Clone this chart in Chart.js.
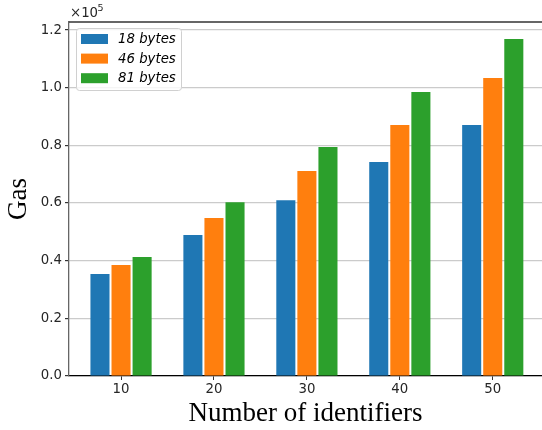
<!DOCTYPE html>
<html>
<head>
<meta charset="utf-8">
<script src="https://cdn.jsdelivr.net/npm/chart.js@4/dist/chart.umd.min.js"></script>
<style>
  html, body { margin: 0; padding: 0; background: #fff; overflow: hidden; }
  #wrap { width: 542px; height: 430px; }
</style>
</head>
<body>
<div id="wrap"><canvas id="chart" width="542" height="430"></canvas></div>
<script>
// values (gas, raw units)
const identifiers = [10, 20, 30, 40, 50];
const seriesLabels = ["18 bytes", "46 bytes", "81 bytes"];
const gas18 = [35400, 48900, 61000, 74200, 87100];
const gas46 = [38500, 54800, 71100, 87100, 103400];
const gas81 = [41300, 60300, 79400, 98500, 116900];
const yTicks = [0, 20000, 40000, 60000, 80000, 100000, 120000];
const colors = ["#1f77b4", "#ff7f0e", "#2ca02c"];

const tickFont = { family: "'DejaVu Sans'", size: 13.3 };
const titleFont = { family: "'Liberation Serif'", size: 27 };

// top spine, offset text and the boxed legend
const extras = {
  id: "extras",
  afterDatasetsDraw(chart) {
    const { ctx, chartArea: a } = chart;
    ctx.save();
    ctx.strokeStyle = "#333";
    ctx.lineWidth = 1.3;
    ctx.beginPath();
    ctx.moveTo(a.left, a.top);
    ctx.lineTo(a.right, a.top);
    ctx.stroke();

    // ×10^5
    ctx.fillStyle = "#262626";
    ctx.textBaseline = "alphabetic";
    ctx.font = "13.3px 'DejaVu Sans'";
    ctx.fillText("\u00d710", 70, 17);
    ctx.font = "9.5px 'DejaVu Sans'";
    ctx.fillText("5", 97.5, 10.5);

    // legend
    const x0 = a.left + 7, y0 = a.top + 6;
    ctx.beginPath();
    ctx.roundRect(x0 + 0.5, y0 + 0.5, 105, 62, 3);
    ctx.fillStyle = "rgba(255,255,255,0.8)";
    ctx.fill();
    ctx.strokeStyle = "#d0d0d0";
    ctx.lineWidth = 1;
    ctx.stroke();
    ctx.font = "italic 13.3px 'DejaVu Sans'";
    ctx.textBaseline = "middle";
    chart.data.datasets.forEach((ds, i) => {
      const y = y0 + 6 + i * 19.6;
      ctx.fillStyle = ds.backgroundColor;
      ctx.fillRect(x0 + 5, y, 27, 10);
      ctx.fillStyle = "#000";
      ctx.fillText(ds.label, x0 + 42, y + 5.5);
    });
    ctx.restore();
  }
};

new Chart(document.getElementById("chart"), {
  type: "bar",
  data: {
    datasets: [gas18, gas46, gas81].map((vals, i) => ({
      label: seriesLabels[i],
      data: identifiers.map((x, j) => ({ x, y: vals[j] })),
      backgroundColor: colors[i],
      categoryPercentage: 0.68,
      barPercentage: 0.905
    }))
  },
  options: {
    responsive: false,
    animation: false,
    layout: { padding: { left: 0, right: 0, top: 22, bottom: 0 } },
    plugins: { legend: { display: false }, tooltip: { enabled: false } },
    scales: {
      x: {
        type: "linear",
        offset: false,
        min: 4.4,
        max: 55.3,
        afterBuildTicks: s => { s.ticks = identifiers.map(v => ({ value: v })); },
        afterFit: s => { s.height = 54; },
        grid: { offset: false, drawOnChartArea: false, drawTicks: true, tickLength: 4, tickColor: "#333" },
        border: { color: "#000", width: 1.3 },
        ticks: { font: tickFont, color: "#262626", padding: 2, maxRotation: 0 },
        title: { display: true, text: "Number of identifiers", font: titleFont, color: "#000", padding: { top: 0, bottom: 0 } }
      },
      y: {
        min: 0,
        max: 122800,
        afterBuildTicks: s => { s.ticks = yTicks.map(v => ({ value: v })); },
        afterFit: s => { s.width = 69; },
        grid: { color: "#cbcbcb", lineWidth: 1.2, tickLength: 4, tickColor: "#333" },
        border: { color: "#666", width: 1.3 },
        ticks: { font: tickFont, color: "#262626", padding: 3, callback: v => (v / 100000).toFixed(1) },
        title: { display: true, text: "Gas", font: titleFont, color: "#000", padding: { top: 3, bottom: 0 } }
      }
    }
  },
  plugins: [extras]
});
</script>
</body>
</html>
